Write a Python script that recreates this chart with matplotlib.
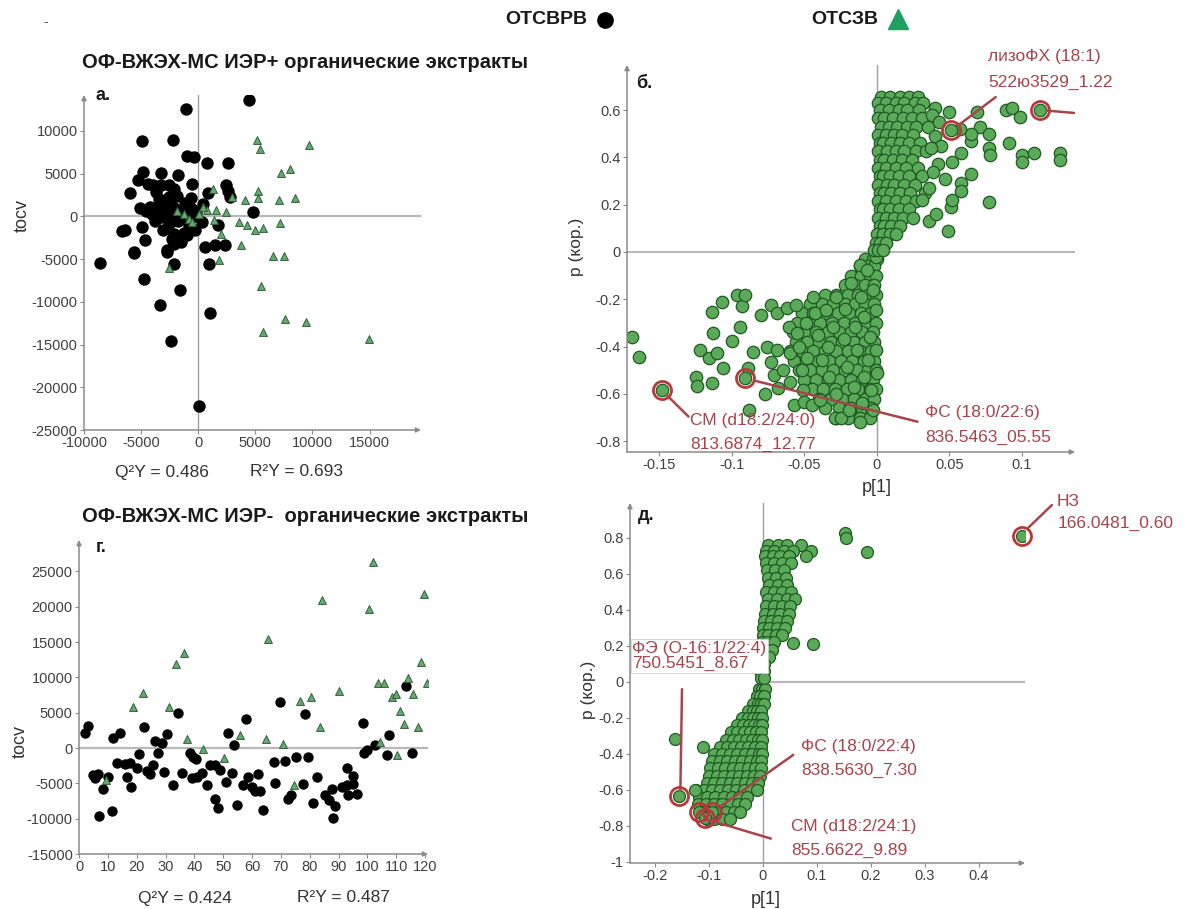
import matplotlib
matplotlib.use("Agg")
import matplotlib.pyplot as plt
from matplotlib.lines import Line2D
from matplotlib.ticker import FuncFormatter

plt.rcParams['font.family'] = ['Liberation Sans', 'DejaVu Sans']

W, H = 1190, 909

# ---------------- panel а: OPLS-DA scores, ESI+ ----------------
a_black_x = [4400, -1100, -4900, -2200, -1000, -400, 800, 2600, -4800, -3300, -1750, -5300,
             -4430, -3930, -3260, -2590, -2100, -580, 2430, 2600, -5940, -3430, -2590, 860, 2760,
             -5100, -4260, -3590, -2920, -2090, -1420, -580, 420, 4770, -4090, -3260, -2420,
             -1580, -580, -6670, -6430, -4930, -3090, -2090, -1250, -250, 1690, -4660, -2090,
             -5600, -2760, 590, 1430, 2370, -8570, -5590, -2740, -2160, 900, -4780, -1630,
             -3380, 990, -2390, 90,
             -3700, -2900, -1900, -1200, -600, -3800, -2600, -1800, -800, -3400, -1300, -200,
             -4600, -2300, -1500, -3600, -2400, -1000, 300]
a_black_y = [13600, 12600, 8800, 8900, 7100, 7000, 6200, 6300, 5200, 5100, 4800, 4200,
             3830, 3710, 3630, 3630, 3240, 3750, 3630, 2960, 2730, 2070, 2260, 2730, 2260,
             1020, 1090, 900, 780, 1020, 700, 900, 1410, 470, 310, -80, 120,
             -270, -80, -1720, -1560, -1250, -1640, -2030, -1950, -1640, -1050, -2730, -3200,
             -4180, -3980, -3590, -3400, -3400, -5470, -4300, -4180, -5620, -5540, -7300, -8670,
             -10420, -11320, -14600, -22210,
             2800, 1900, 2400, 1600, 2100, -600, -900, -500, -1100, 300, 500, 400,
             600, -2600, -3000, 3300, 1300, -2200, -700]
a_green_x = [5170, 5440, 9720, 7280, 8010, 1260, 2930, 4100, 5210, 5270, 7110, 8510, 760, 1590,
             2430, -1850, -1250, -850, -580, 90, 420, 1360, 3600, 4270, 4940, 5710, 7180, 2030,
             3770, -2590, 1780, 6530, 7550, 5480, 7600, 9440, 5650, 14970]
a_green_y = [8980, 7930, 8390, 5070, 5580, 3240, 2260, 1870, 2960, 2190, 1870, 2140, 700, 700,
             500, 620, 310, -270, -660, 310, 1090, -390, -660, -1050, -1640, -1330, -780, -2030,
             -3400, -6010, -5080, -4680, -4680, -8200, -11980, -12380, -13550, -14400]

# ---------------- panel г: tocv vs sample number, ESI- ----------------
g_black_x = [2.1, 3.2, 4.7, 5.5, 6.7, 7.1, 8.4, 10.2, 11.3, 11.9, 14.2, 13.1, 16.0, 16.5, 17.9,
             17.7, 20.0, 20.9, 22.5, 23.5, 24.6, 25.8, 26.4, 27.5, 28.7, 29.5, 30.6, 32.5, 34.4,
             35.6, 38.5, 39.6, 40.6, 39.1, 40.8, 42.6, 44.3, 45.4, 47.2, 47.2, 48.3, 48.9, 51.0,
             51.8, 53.0, 53.8, 54.9, 57.9, 56.8, 58.7, 59.9, 61.0, 61.9, 62.8, 63.9, 68.0, 67.6,
             69.7, 71.5, 72.3, 73.4, 75.3, 77.8, 78.4, 79.5, 81.3, 82.4, 85.3, 86.8, 87.7, 88.0,
             88.8, 91.1, 92.9, 92.9, 94.9, 95.1, 93.4, 96.3, 98.4, 98.9, 100.0, 102.7, 106.7,
             107.6, 113.4, 115.4]
g_black_y = [2080, 3120, -3820, -4300, -3680, -9630, -5850, -4150, -8880, 1370, 2080, -2170,
             -2270, -4150, -5570, -2170, -2880, -850, 2930, -3210, -3680, -2410, 1040, -750, 670,
             -3350, 1980, -5240, 5000, -3590, -750, -1320, -1600, -4300, -4150, -3500, -5240,
             -2410, -2410, -7270, -8540, -3120, -4770, 2170, -3500, 420, -8070, 4060, -5240,
             -4060, -5570, -6040, -3680, -6040, -8780, -4910, -1940, 6560, -1840, -7270, -6650,
             -1230, -5100, 4810, -1320, -7830, -4150, -6650, -7360, -5850, -9950, -8210, -5570,
             -5290, -2880, -5100, -3960, -6650, -6510, 3500, -750, -280, 420, -990, 1840, 8780,
             -750]
g_green_x = [9.4, 18.8, 22.1, 31.3, 33.6, 36.5, 37.4, 43.1, 50.1, 55.8, 64.9, 65.7, 70.7, 74.6,
             76.7, 80.4, 83.6, 84.2, 90.2, 100.7, 102.1, 103.8, 105.6, 104.4, 108.5, 110.0,
             110.4, 111.3, 112.7, 114.2, 115.9, 117.7, 118.5, 119.7, 120.6]
g_green_y = [-4530, 5850, 7740, 5850, 11890, 13400, 1230, -190, -1460, 1840, 1230, 15430, 520,
             -5240, 6650, 7270, 3020, 20960, 8120, 19730, 26340, 9160, 9160, 890, 7180, 7650,
             -990, 5280, 3400, 9950, 7650, 3020, 12130, 21810, 9160]

# ---------------- panel б: S-plot, ESI+ ----------------
b_up_x = [0.003, 0.009, 0.016, 0.022, 0.028,
          0.001, 0.006, 0.013, 0.019, 0.026, 0.032,
          0.002, 0.008, 0.015, 0.021, 0.029,
          0.001, 0.005, 0.011, 0.018, 0.024, 0.031,
          0.003, 0.008, 0.014, 0.021, 0.027, 0.035,
          0.001, 0.006, 0.012, 0.017, 0.025,
          0.002, 0.004, 0.010, 0.016, 0.022, 0.030,
          0.001, 0.007, 0.013, 0.019, 0.027, 0.034,
          0.002, 0.005, 0.011, 0.017, 0.024,
          0.001, 0.006, 0.013, 0.020, 0.028,
          0.002, 0.004, 0.009, 0.015, 0.022, 0.031,
          0.001, 0.007, 0.012, 0.019, 0.026,
          0.002, 0.005, 0.010, 0.016, 0.023, 0.033,
          0.001, 0.006, 0.013, 0.020, 0.027,
          0.002, 0.004, 0.009, 0.015, 0.022,
          0.001, 0.006, 0.012, 0.018, 0.025,
          0.002, 0.005, 0.010, 0.016,
          0.000, 0.004, 0.009, 0.013,
          -0.001, 0.002, 0.006,
          -0.002, 0.001, 0.004,
          0.040, 0.050, 0.069, 0.071, 0.077, 0.089, 0.093, 0.099, 0.091, 0.077, 0.078, 0.100,
          0.108, 0.100, 0.126, 0.126, 0.065, 0.058, 0.052, 0.065, 0.058, 0.077, 0.058, 0.049,
          0.036, 0.031, 0.051, 0.047, 0.042, 0.052, 0.065, 0.057, 0.040,
          0.038, 0.044, 0.036, 0.041, 0.039, 0.043, 0.037]
b_up_y = [0.655, 0.655, 0.655, 0.655, 0.655,
          0.63, 0.63, 0.63, 0.63, 0.63, 0.63,
          0.60, 0.60, 0.60, 0.60, 0.60,
          0.565, 0.565, 0.565, 0.565, 0.565, 0.565,
          0.53, 0.53, 0.53, 0.53, 0.53, 0.53,
          0.495, 0.495, 0.495, 0.495, 0.495,
          0.46, 0.46, 0.46, 0.46, 0.46, 0.46,
          0.425, 0.425, 0.425, 0.425, 0.425, 0.425,
          0.39, 0.39, 0.39, 0.39, 0.39,
          0.355, 0.355, 0.355, 0.355, 0.355,
          0.32, 0.32, 0.32, 0.32, 0.32, 0.32,
          0.285, 0.285, 0.285, 0.285, 0.285,
          0.25, 0.25, 0.25, 0.25, 0.25, 0.25,
          0.215, 0.215, 0.215, 0.215, 0.215,
          0.18, 0.18, 0.18, 0.18, 0.18,
          0.145, 0.145, 0.145, 0.145, 0.145,
          0.11, 0.11, 0.11, 0.11,
          0.075, 0.075, 0.075, 0.075,
          0.04, 0.04, 0.04,
          0.01, 0.01, 0.01,
          0.61, 0.59, 0.59, 0.53, 0.50, 0.60, 0.61, 0.57, 0.46, 0.44, 0.41, 0.41,
          0.42, 0.38, 0.42, 0.39, 0.47, 0.42, 0.38, 0.33, 0.29, 0.21, 0.26, 0.09,
          0.13, 0.22, 0.19, 0.31, 0.37, 0.22, 0.50, 0.52, 0.49,
          0.58, 0.45, 0.27, 0.16, 0.34, 0.55, 0.44]
b_low_x = [-0.008, -0.003, 0.000,
           -0.012, -0.006, -0.002,
           -0.018, -0.011, -0.005, -0.001,
           -0.022, -0.015, -0.008, -0.002,
           -0.036, -0.028, -0.020, -0.013, -0.006, -0.001,
           -0.046, -0.038, -0.030, -0.022, -0.015, -0.008, -0.002,
           -0.052, -0.044, -0.036, -0.027, -0.019, -0.011, -0.004,
           -0.055, -0.047, -0.039, -0.031, -0.023, -0.015, -0.007, -0.001,
           -0.058, -0.050, -0.042, -0.034, -0.026, -0.018, -0.010, -0.003,
           -0.056, -0.048, -0.040, -0.032, -0.024, -0.016, -0.008, -0.002,
           -0.060, -0.052, -0.044, -0.036, -0.028, -0.020, -0.012, -0.004,
           -0.057, -0.049, -0.041, -0.033, -0.025, -0.017, -0.009, -0.002,
           -0.054, -0.046, -0.038, -0.030, -0.022, -0.014, -0.006, -0.001,
           -0.050, -0.042, -0.034, -0.026, -0.018, -0.010, -0.003,
           -0.045, -0.037, -0.029, -0.021, -0.013, -0.005, -0.001,
           -0.040, -0.032, -0.024, -0.016, -0.008, -0.002,
           -0.036, -0.026, -0.018, -0.010, -0.004,
           -0.028, -0.020, -0.012, -0.005,
           -0.169, -0.164, -0.1245, -0.124, -0.122, -0.1155, -0.114, -0.114, -0.113, -0.1106,
           -0.107, -0.106, -0.100, -0.0968, -0.0945, -0.093, -0.091, -0.089, -0.088, -0.0857,
           -0.080, -0.077, -0.076, -0.073, -0.073, -0.071, -0.069, -0.069, -0.068, -0.065,
           -0.062, -0.061, -0.060, -0.060, -0.057, -0.056, -0.055, -0.054, -0.052, -0.051,
           -0.050, -0.049, -0.048, -0.045, -0.044, -0.043, -0.041, -0.039, -0.038, -0.035,
           -0.034, -0.033, -0.030, -0.029, -0.028, -0.028, -0.025, -0.023, -0.022, -0.021,
           -0.019, -0.018, -0.016, -0.015, -0.014, -0.012, -0.012, -0.011, -0.010, -0.009,
           -0.009, -0.007, -0.006, -0.005, -0.004, -0.003, -0.003, -0.001, -0.001, -0.001, 0.000]
b_low_y = [-0.03, -0.03, -0.03,
           -0.06, -0.06, -0.06,
           -0.10, -0.10, -0.10, -0.10,
           -0.14, -0.14, -0.14, -0.14,
           -0.18, -0.18, -0.18, -0.18, -0.18, -0.18,
           -0.22, -0.22, -0.22, -0.22, -0.22, -0.22, -0.22,
           -0.26, -0.26, -0.26, -0.26, -0.26, -0.26, -0.26,
           -0.30, -0.30, -0.30, -0.30, -0.30, -0.30, -0.30, -0.30,
           -0.34, -0.34, -0.34, -0.34, -0.34, -0.34, -0.34, -0.34,
           -0.38, -0.38, -0.38, -0.38, -0.38, -0.38, -0.38, -0.38,
           -0.42, -0.42, -0.42, -0.42, -0.42, -0.42, -0.42, -0.42,
           -0.46, -0.46, -0.46, -0.46, -0.46, -0.46, -0.46, -0.46,
           -0.50, -0.50, -0.50, -0.50, -0.50, -0.50, -0.50, -0.50,
           -0.54, -0.54, -0.54, -0.54, -0.54, -0.54, -0.54,
           -0.58, -0.58, -0.58, -0.58, -0.58, -0.58, -0.58,
           -0.62, -0.62, -0.62, -0.62, -0.62, -0.62,
           -0.66, -0.66, -0.66, -0.66, -0.66,
           -0.70, -0.70, -0.70, -0.70,
           -0.36, -0.445, -0.527, -0.567, -0.414, -0.449, -0.553, -0.252, -0.342, -0.429,
           -0.21, -0.492, -0.375, -0.182, -0.316, -0.23, -0.18, -0.492, -0.668, -0.422,
           -0.266, -0.60, -0.40, -0.224, -0.464, -0.52, -0.414, -0.259, -0.576, -0.499,
           -0.238, -0.316, -0.428, -0.548, -0.647, -0.224, -0.344, -0.40, -0.499, -0.583,
           -0.633, -0.302, -0.45, -0.647, -0.19, -0.26, -0.35, -0.626, -0.457, -0.245,
           -0.40, -0.527, -0.316, -0.70, -0.19, -0.60, -0.70, -0.37, -0.24, -0.485,
           -0.67, -0.13, -0.57, -0.316, -0.414, -0.72, -0.055, -0.19, -0.64, -0.527,
           -0.275, -0.076, -0.457, -0.36, -0.583, -0.16, -0.67, -0.02, -0.245, -0.414, -0.51]
# highlighted variables in б: лизоФХ, unlabelled outlier, СМ, ФС
b_mark_x = [0.0514, 0.1124, -0.148, -0.0907]
b_mark_y = [0.516, 0.600, -0.583, -0.533]

# ---------------- panel д: S-plot, ESI- ----------------
d_up_x = [0.010, 0.028, 0.045, 0.070,
          0.005, 0.020, 0.038, 0.055, 0.088,
          0.004, 0.018, 0.032, 0.048, 0.080,
          0.006, 0.020, 0.035, 0.052,
          0.008, 0.022, 0.038,
          0.010, 0.025, 0.042,
          0.012, 0.028, 0.045,
          0.006, 0.020, 0.036, 0.052,
          0.010, 0.026, 0.044, 0.060,
          0.006, 0.020, 0.036, 0.050,
          0.004, 0.018, 0.032, 0.048,
          0.002, 0.014, 0.028, 0.045,
          0.000, 0.012, 0.026, 0.040,
          0.000, 0.010, 0.024, 0.035,
          -0.002, 0.008, 0.020,
          -0.004, 0.006, 0.016,
          -0.006, 0.004, 0.012,
          -0.006, 0.002,
          -0.005, 0.001,
          -0.004, 0.002,
          0.056, 0.093, 0.152, 0.153, 0.193]
d_up_y = [0.76, 0.76, 0.76, 0.76,
          0.73, 0.73, 0.73, 0.73, 0.73,
          0.70, 0.70, 0.70, 0.70, 0.70,
          0.66, 0.66, 0.66, 0.66,
          0.62, 0.62, 0.62,
          0.58, 0.58, 0.58,
          0.54, 0.54, 0.54,
          0.50, 0.50, 0.50, 0.50,
          0.46, 0.46, 0.46, 0.46,
          0.42, 0.42, 0.42, 0.42,
          0.38, 0.38, 0.38, 0.38,
          0.34, 0.34, 0.34, 0.34,
          0.30, 0.30, 0.30, 0.30,
          0.26, 0.26, 0.26, 0.26,
          0.22, 0.22, 0.22,
          0.18, 0.18, 0.18,
          0.14, 0.14, 0.14,
          0.10, 0.10,
          0.06, 0.06,
          0.02, 0.02,
          0.215, 0.21, 0.83, 0.80, 0.72]
d_low_x = [-0.008, -0.002, 0.003,
           -0.012, -0.005, 0.001,
           -0.018, -0.010, -0.003, 0.001,
           -0.028, -0.019, -0.011, -0.004,
           -0.038, -0.028, -0.018, -0.009, -0.002,
           -0.048, -0.037, -0.026, -0.016, -0.007, -0.001,
           -0.060, -0.048, -0.036, -0.024, -0.013, -0.004,
           -0.068, -0.056, -0.044, -0.032, -0.020, -0.009, -0.002,
           -0.080, -0.066, -0.053, -0.040, -0.027, -0.015, -0.004,
           -0.090, -0.076, -0.062, -0.048, -0.034, -0.020, -0.008, -0.001,
           -0.094, -0.080, -0.066, -0.052, -0.038, -0.024, -0.011, -0.003,
           -0.098, -0.084, -0.070, -0.056, -0.042, -0.028, -0.014, -0.004,
           -0.100, -0.086, -0.072, -0.058, -0.044, -0.030, -0.016, -0.006,
           -0.104, -0.090, -0.076, -0.062, -0.048, -0.034, -0.020, -0.009,
           -0.124, -0.110, -0.095, -0.080, -0.065, -0.050, -0.036, -0.022, -0.012,
           -0.118, -0.104, -0.088, -0.072, -0.058, -0.044, -0.030,
           -0.120, -0.106, -0.090, -0.075, -0.060, -0.046, -0.034,
           -0.114, -0.098, -0.084, -0.068, -0.054, -0.042,
           -0.104, -0.090, -0.076, -0.062,
           -0.163, -0.112, -0.126]
d_low_y = [-0.04, -0.04, -0.04,
           -0.08, -0.08, -0.08,
           -0.12, -0.12, -0.12, -0.12,
           -0.16, -0.16, -0.16, -0.16,
           -0.20, -0.20, -0.20, -0.20, -0.20,
           -0.24, -0.24, -0.24, -0.24, -0.24, -0.24,
           -0.28, -0.28, -0.28, -0.28, -0.28, -0.28,
           -0.32, -0.32, -0.32, -0.32, -0.32, -0.32, -0.32,
           -0.36, -0.36, -0.36, -0.36, -0.36, -0.36, -0.36,
           -0.40, -0.40, -0.40, -0.40, -0.40, -0.40, -0.40, -0.40,
           -0.44, -0.44, -0.44, -0.44, -0.44, -0.44, -0.44, -0.44,
           -0.48, -0.48, -0.48, -0.48, -0.48, -0.48, -0.48, -0.48,
           -0.52, -0.52, -0.52, -0.52, -0.52, -0.52, -0.52, -0.52,
           -0.56, -0.56, -0.56, -0.56, -0.56, -0.56, -0.56, -0.56,
           -0.60, -0.60, -0.60, -0.60, -0.60, -0.60, -0.60, -0.60, -0.60,
           -0.64, -0.64, -0.64, -0.64, -0.64, -0.64, -0.64,
           -0.68, -0.68, -0.68, -0.68, -0.68, -0.68, -0.68,
           -0.72, -0.72, -0.72, -0.72, -0.72, -0.72,
           -0.76, -0.76, -0.76, -0.76,
           -0.317, -0.36, -0.60]
# highlighted variables in д: НЗ, ФЭ, ФС, СМ (two overlapping rings)
d_mark_x = [0.480, -0.155, -0.095, -0.119, -0.107]
d_mark_y = [0.810, -0.635, -0.725, -0.725, -0.757]

# ---------------- drawing ----------------
GRAY = '#8a8a8a'
TICK_TXT = '#404040'
ANN = '#a8444b'
PT_FACE = '#5aaa5a'
PT_EDGE = '#1f5a22'
TRI_FACE = '#66a872'
TRI_EDGE = '#2f6038'

fig = plt.figure(figsize=(W / 100, H / 100), dpi=100)


def px_box(l, t, r, b):
    return [l / W, 1 - b / H, (r - l) / W, (b - t) / H]


def ftext(x, y, s, **kw):
    kw.setdefault('va', 'center')
    return fig.text(x / W, 1 - y / H, s, **kw)


fmt = FuncFormatter(lambda v, p: f"{v:g}")


def style_axes(ax, xticks, yticks):
    for sp in ax.spines.values():
        sp.set_visible(False)
    ax.set_xticks(xticks)
    ax.set_yticks(yticks)
    ax.xaxis.set_major_formatter(fmt)
    ax.yaxis.set_major_formatter(fmt)
    ax.tick_params(direction='out', length=3, width=0.8, color=GRAY,
                   labelsize=10.5, labelcolor=TICK_TXT, pad=1.5)
    ax.patch.set_alpha(0)
    arrow = dict(arrowstyle='-|>', color=GRAY, lw=1.1, mutation_scale=7,
                 shrinkA=0, shrinkB=0)
    ax.annotate('', xy=(1.0, 0), xytext=(0, 0), xycoords='axes fraction',
                arrowprops=arrow, annotation_clip=False)
    ax.annotate('', xy=(0, 1.0), xytext=(0, 0), xycoords='axes fraction',
                arrowprops=arrow, annotation_clip=False)


def ring(ax, xs, ys):
    ax.plot(xs, ys, ls='none', marker='o', ms=13, mfc='none', mec='#b8383c',
            mew=2.0, zorder=6, clip_on=False)


def leader(ax, x0, y0, x1, y1):
    ax.plot([x0, x1], [y0, y1], color=ANN, lw=1.8, zorder=6, clip_on=False,
            solid_capstyle='round')


# panel а
ax_a = fig.add_axes(px_box(84, 95, 421, 430))
ax_a.set_xlim(-10000, 19500)
ax_a.set_ylim(-25000, 14200)
ax_a.axhline(0, color='#b8b8b8', lw=1.6, zorder=1)
ax_a.axvline(0, color='#a0a0a0', lw=1.0, zorder=1)
ax_a.scatter(a_black_x, a_black_y, s=80, c='black', lw=0, zorder=3)
ax_a.scatter(a_green_x, a_green_y, s=32, marker='^', c=TRI_FACE,
             edgecolors=TRI_EDGE, lw=0.7, zorder=4)
style_axes(ax_a, [-10000, -5000, 0, 5000, 10000, 15000],
           [-25000, -20000, -15000, -10000, -5000, 0, 5000, 10000])

# panel г
ax_g = fig.add_axes(px_box(79, 540, 428, 854))
ax_g.set_xlim(0, 121)
ax_g.set_ylim(-15000, 29450)
ax_g.axhline(0, color='#b8b8b8', lw=1.6, zorder=1)
ax_g.scatter(g_black_x, g_black_y, s=56, c='black', lw=0, zorder=3)
ax_g.scatter(g_green_x, g_green_y, s=32, marker='^', c=TRI_FACE,
             edgecolors=TRI_EDGE, lw=0.7, zorder=4)
style_axes(ax_g, list(range(0, 121, 10)),
           [-15000, -10000, -5000, 0, 5000, 10000, 15000, 20000, 25000])

# panel б
ax_b = fig.add_axes(px_box(627, 65, 1075, 452))
ax_b.set_xlim(-0.1724, 0.1366)
ax_b.set_ylim(-0.8457, 0.7907)
ax_b.axhline(0, color='#b8b8b8', lw=1.4, zorder=1)
ax_b.axvline(0, color='#a0a0a0', lw=1.0, zorder=1)
for xs, ys in ((b_low_x, b_low_y), (b_up_x, b_up_y), (b_mark_x, b_mark_y)):
    ax_b.scatter(xs, ys, s=80, c=PT_FACE, edgecolors=PT_EDGE, lw=0.9, zorder=3)
ring(ax_b, b_mark_x, b_mark_y)
leader(ax_b, 0.0560, 0.535, 0.0819, 0.655)
leader(ax_b, 0.1170, 0.598, 0.1359, 0.588)
leader(ax_b, -0.145, -0.605, -0.130, -0.696)
leader(ax_b, -0.085, -0.543, 0.0279, -0.7175)
style_axes(ax_b, [-0.15, -0.1, -0.05, 0, 0.05, 0.1],
           [-0.8, -0.6, -0.4, -0.2, 0, 0.2, 0.4, 0.6])

# panel д
ax_d = fig.add_axes(px_box(630, 503, 1025, 863))
ax_d.set_xlim(-0.2463, 0.4852)
ax_d.set_ylim(-1.0056, 0.9944)
ax_d.axhline(0, xmin=0.2463 / 0.7315, color='#b8b8b8', lw=1.6, zorder=1)
ax_d.axvline(0, color='#a0a0a0', lw=1.0, zorder=1)
for xs, ys in ((d_low_x, d_low_y), (d_up_x, d_up_y), (d_mark_x, d_mark_y)):
    ax_d.scatter(xs, ys, s=74, c=PT_FACE, edgecolors=PT_EDGE, lw=0.9, zorder=3)
ring(ax_d, d_mark_x, d_mark_y)
leader(ax_d, 0.491, 0.856, 0.535, 0.983)
leader(ax_d, -0.153, -0.600, -0.150, -0.040)
leader(ax_d, -0.078, -0.690, 0.056, -0.405)
leader(ax_d, -0.100, -0.767, 0.0145, -0.870)
style_axes(ax_d, [-0.2, -0.1, 0, 0.1, 0.2, 0.3, 0.4],
           [-1, -0.8, -0.6, -0.4, -0.2, 0, 0.2, 0.4, 0.6, 0.8])

# ---------------- text ----------------
ftext(46, 22, '-', fontsize=10, color='#555555', ha='center')
ftext(505, 20, 'ОТСВРВ', fontsize=14, fontweight='bold', ha='left', color='#1a1a1a')
ftext(811, 20, 'ОТСЗВ', fontsize=14, fontweight='bold', ha='left', color='#1a1a1a')
fig.add_artist(Line2D([605 / W], [1 - 20 / H], marker='o', ms=11, color='black',
                      transform=fig.transFigure))
fig.add_artist(Line2D([898 / W], [1 - 19 / H], marker='^', ms=14, color='#1fa060',
                      transform=fig.transFigure))

ftext(82, 63, 'ОФ-ВЖЭХ-МС ИЭР+ органические экстракты', fontsize=14.5,
      fontweight='bold', ha='left', color='#1a1a1a')
ftext(82, 517, 'ОФ-ВЖЭХ-МС ИЭР-  органические экстракты', fontsize=14.5,
      fontweight='bold', ha='left', color='#1a1a1a')

for x, y, s in ((96, 96, 'а.'), (636, 84, 'б.'), (96, 547, 'г.'), (638, 515, 'д.')):
    ftext(x, y, s, fontsize=13, fontweight='bold', ha='left', color='#1a1a1a')

ftext(22, 215, 'tocv', fontsize=13, rotation=90, ha='center', color='#333333')
ftext(20, 741, 'tocv', fontsize=13, rotation=90, ha='center', color='#333333')
ftext(576, 247, 'p (кор.)', fontsize=12.5, rotation=90, ha='center', color='#333333')
ftext(588, 690, 'p (кор.)', fontsize=12.5, rotation=90, ha='center', color='#333333')
ftext(877, 487, 'p[1]', fontsize=13, ha='center', color='#333333')
ftext(766, 899, 'p[1]', fontsize=13, ha='center', color='#333333')

ftext(115, 472, 'Q²Y = 0.486', fontsize=12.5, ha='left', color='#333333')
ftext(250, 472, 'R²Y = 0.693', fontsize=12.5, ha='left', color='#333333')
ftext(138, 898, 'Q²Y = 0.424', fontsize=12.5, ha='left', color='#333333')
ftext(297, 898, 'R²Y = 0.487', fontsize=12.5, ha='left', color='#333333')

ann = dict(fontsize=12.5, ha='left', color=ANN)
ftext(988, 57, 'лизоФХ (18:1)', **ann)
ftext(988, 82, '522ю3529_1.22', **ann)
ftext(690, 421, 'СМ (d18:2/24:0)', **ann)
ftext(690, 444, '813.6874_12.77', **ann)
ftext(925, 413, 'ФС (18:0/22:6)', **ann)
ftext(925, 437, '836.5463_05.55', **ann)

ftext(632, 656, 'ФЭ (O-16:1/22:4)\n750.5451_8.67', linespacing=1.05,
      bbox=dict(facecolor='white', edgecolor='#d0d0d0', lw=0.6, pad=1.0), **ann)
ftext(801, 747, 'ФС (18:0/22:4)', **ann)
ftext(801, 770, '838.5630_7.30', **ann)
ftext(791, 827, 'СМ (d18:2/24:1)', **ann)
ftext(791, 850, '855.6622_9.89', **ann)
ftext(1057, 501, 'НЗ', **ann)
ftext(1058, 523, '166.0481_0.60', **ann)

fig.savefig('out.png', dpi=100, facecolor='white')
